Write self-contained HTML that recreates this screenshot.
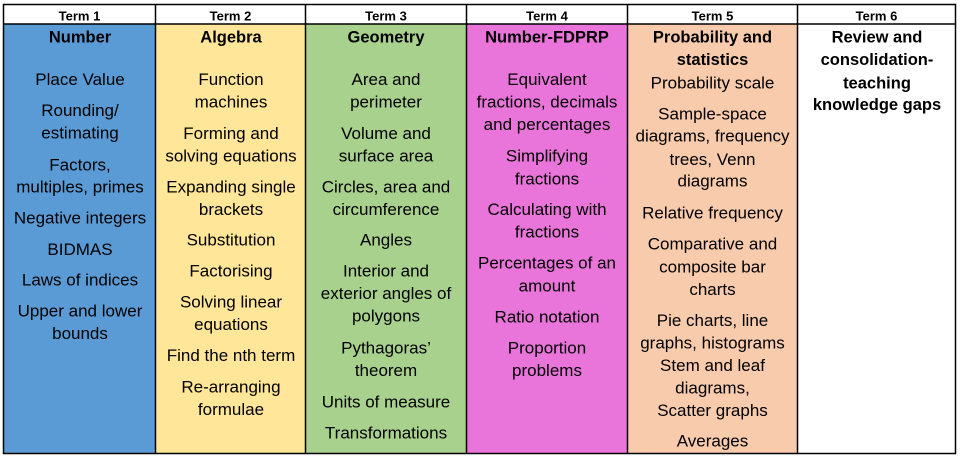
<!DOCTYPE html>
<html>
<head>
<meta charset="utf-8">
<style>
  html,body{margin:0;padding:0;background:#fff;}
  svg{display:block;}
  text{font-family:"Liberation Sans",Arial,sans-serif;fill:#000;}
  .h{font-size:13px;font-weight:bold;}
  .t{font-size:16.5px;font-weight:bold;}
  .b{font-size:17px;}
</style>
</head>
<body>
<svg width="961" height="457" viewBox="0 0 961 457" xmlns="http://www.w3.org/2000/svg">
  <rect x="0" y="0" width="961" height="457" fill="#fff"/>
  <!-- column fills -->
  <rect x="3.5" y="24" width="152" height="429.5" fill="#5B9BD5"/>
  <rect x="155.5" y="24" width="150" height="429.5" fill="#FFE699"/>
  <rect x="305.5" y="24" width="161" height="429.5" fill="#A9D18E"/>
  <rect x="466.5" y="24" width="161" height="429.5" fill="#E974DA"/>
  <rect x="627.5" y="24" width="170" height="429.5" fill="#F8CBAD"/>
  <rect x="797.5" y="24" width="158" height="429.5" fill="#FFFFFF"/>
  <!-- grid lines -->
  <g stroke="#000" stroke-width="1.5" fill="none">
    <rect x="3.5" y="4.5" width="952" height="449"/>
    <line x1="3.5" y1="24" x2="955.5" y2="24"/>
    <line x1="155.5" y1="4.5" x2="155.5" y2="453.5"/>
    <line x1="305.5" y1="4.5" x2="305.5" y2="453.5"/>
    <line x1="466.5" y1="4.5" x2="466.5" y2="453.5"/>
    <line x1="627.5" y1="4.5" x2="627.5" y2="453.5"/>
    <line x1="797.5" y1="4.5" x2="797.5" y2="453.5"/>
  </g>
  <!-- headers -->
  <g class="h" text-anchor="middle">
    <text class="h" x="79.5" y="20.7">Term 1</text>
    <text class="h" x="230.5" y="20.7">Term 2</text>
    <text class="h" x="386" y="20.7">Term 3</text>
    <text class="h" x="547" y="20.7">Term 4</text>
    <text class="h" x="712.5" y="20.7">Term 5</text>
    <text class="h" x="876.5" y="20.7">Term 6</text>
  </g>
  <!-- column 1 -->
  <g text-anchor="middle">
    <text class="t" x="80" y="42.7">Number</text>
    <text class="b" x="80" y="85">Place Value</text>
    <text class="b" x="80" y="116">Rounding/</text>
    <text class="b" x="80" y="138.3">estimating</text>
    <text class="b" x="80" y="170.7">Factors,</text>
    <text class="b" x="80" y="192.7">multiples, primes</text>
    <text class="b" x="80" y="223.3">Negative integers</text>
    <text class="b" x="80" y="255">BIDMAS</text>
    <text class="b" x="80" y="285.7">Laws of indices</text>
    <text class="b" x="80" y="316.7">Upper and lower</text>
    <text class="b" x="80" y="339">bounds</text>
  </g>
  <!-- column 2 -->
  <g text-anchor="middle">
    <text class="t" x="231" y="42.7">Algebra</text>
    <text class="b" x="231" y="85">Function</text>
    <text class="b" x="231" y="107.3">machines</text>
    <text class="b" x="231" y="139">Forming and</text>
    <text class="b" x="231" y="161.3">solving equations</text>
    <text class="b" x="231" y="192.7">Expanding single</text>
    <text class="b" x="231" y="215">brackets</text>
    <text class="b" x="231" y="245.7">Substitution</text>
    <text class="b" x="231" y="276.7">Factorising</text>
    <text class="b" x="231" y="307.7">Solving linear</text>
    <text class="b" x="231" y="330">equations</text>
    <text class="b" x="231" y="361">Find the nth term</text>
    <text class="b" x="231" y="392.3">Re-arranging</text>
    <text class="b" x="231" y="415">formulae</text>
  </g>
  <!-- column 3 -->
  <g text-anchor="middle">
    <text class="t" x="386" y="42.7">Geometry</text>
    <text class="b" x="386" y="85">Area and</text>
    <text class="b" x="386" y="107.3">perimeter</text>
    <text class="b" x="386" y="139">Volume and</text>
    <text class="b" x="386" y="161.3">surface area</text>
    <text class="b" x="386" y="192.7">Circles, area and</text>
    <text class="b" x="386" y="215">circumference</text>
    <text class="b" x="386" y="245.7">Angles</text>
    <text class="b" x="386" y="276.7">Interior and</text>
    <text class="b" x="386" y="299">exterior angles of</text>
    <text class="b" x="386" y="321.7">polygons</text>
    <text class="b" x="386" y="353.3">Pythagoras’</text>
    <text class="b" x="386" y="376">theorem</text>
    <text class="b" x="386" y="407.3">Units of measure</text>
    <text class="b" x="386" y="438.3">Transformations</text>
  </g>
  <!-- column 4 -->
  <g text-anchor="middle">
    <text class="t" x="547" y="42.7">Number-FDPRP</text>
    <text class="b" x="547" y="85">Equivalent</text>
    <text class="b" x="547" y="107.3">fractions, decimals</text>
    <text class="b" x="547" y="130">and percentages</text>
    <text class="b" x="547" y="161.7">Simplifying</text>
    <text class="b" x="547" y="184.3">fractions</text>
    <text class="b" x="547" y="215">Calculating with</text>
    <text class="b" x="547" y="237.3">fractions</text>
    <text class="b" x="547" y="268.3">Percentages of an</text>
    <text class="b" x="547" y="291.7">amount</text>
    <text class="b" x="547" y="322.7">Ratio notation</text>
    <text class="b" x="547" y="353.3">Proportion</text>
    <text class="b" x="547" y="376">problems</text>
  </g>
  <!-- column 5 -->
  <g text-anchor="middle">
    <text class="t" x="712.5" y="42.7">Probability and</text>
    <text class="t" x="712.5" y="65">statistics</text>
    <text class="b" x="712.5" y="88.3">Probability scale</text>
    <text class="b" x="712.5" y="119.3">Sample-space</text>
    <text class="b" x="712.5" y="141.7">diagrams, frequency</text>
    <text class="b" x="712.5" y="165">trees, Venn</text>
    <text class="b" x="712.5" y="186.7">diagrams</text>
    <text class="b" x="712.5" y="218.3">Relative frequency</text>
    <text class="b" x="712.5" y="249.3">Comparative and</text>
    <text class="b" x="712.5" y="272.7">composite bar</text>
    <text class="b" x="712.5" y="295">charts</text>
    <text class="b" x="712.5" y="326">Pie charts, line</text>
    <text class="b" x="712.5" y="348.3">graphs, histograms</text>
    <text class="b" x="712.5" y="371">Stem and leaf</text>
    <text class="b" x="712.5" y="393.3">diagrams,</text>
    <text class="b" x="712.5" y="416">Scatter graphs</text>
    <text class="b" x="712.5" y="446.7">Averages</text>
  </g>
  <!-- column 6 -->
  <g text-anchor="middle">
    <text class="t" x="877" y="42.7">Review and</text>
    <text class="t" x="877" y="65">consolidation-</text>
    <text class="t" x="877" y="88.3">teaching</text>
    <text class="t" x="877" y="110">knowledge gaps</text>
  </g>
</svg>
</body>
</html>
